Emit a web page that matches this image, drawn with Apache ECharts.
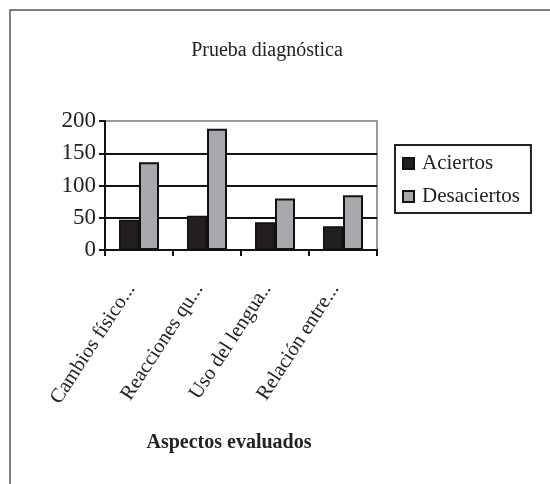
<!DOCTYPE html>
<html>
<head>
<meta charset="utf-8">
<script src="https://cdn.jsdelivr.net/npm/echarts@6/dist/echarts.min.js"></script>
<style>html,body{margin:0;padding:0;background:#fff;}#c{width:550px;height:484px;}</style>
</head>
<body>
<div id="c"></div>
<script>
var categories = ['Cambios físico...', 'Reacciones qu...', 'Uso del lengua..', 'Relación entre...'];
var aciertos = [47, 53, 43, 37];
var desaciertos = [136, 188, 80, 85];
var yTicks = [0, 50, 100, 150, 200];

var FONT = '"Liberation Serif", "Times New Roman", serif';
var chart = echarts.init(document.getElementById('c'));
chart.setOption({
  backgroundColor: '#fff',
  animation: false,
  textStyle: { fontFamily: FONT },
  title: [
    { text: 'Prueba diagnóstica', left: 262, top: 36, textAlign: 'center',
      textStyle: { fontFamily: FONT, fontSize: 20, fontWeight: 'normal', color: '#222' } },
    { text: 'Aspectos evaluados', left: 224, top: 428, textAlign: 'center',
      textStyle: { fontFamily: FONT, fontSize: 20, fontWeight: 'bold', color: '#222' } }
  ],
  graphic: [
    { type: 'rect', shape: { x: 10, y: 10, width: 560, height: 500 },
      style: { fill: 'none', stroke: '#555', lineWidth: 1.5 }, silent: true }
  ],
  legend: {
    orient: 'vertical', left: 395, top: 145,
    padding: [8, 11, 6, 7], itemGap: 12,
    borderColor: '#222', borderWidth: 2,
    itemWidth: 11, itemHeight: 11,
    icon: 'rect',
    textStyle: { fontFamily: FONT, fontSize: 21, color: '#222', padding: [0, 0, 0, 3] },
    data: ['Aciertos', 'Desaciertos']
  },
  grid: { left: 105, top: 121, width: 272, height: 129, show: true, borderColor: '#999', borderWidth: 2 },
  xAxis: {
    type: 'category', data: categories,
    axisLine: { lineStyle: { color: '#111', width: 2 } },
    axisTick: { show: true, interval: 0, length: 6, lineStyle: { color: '#111', width: 2 } },
    axisLabel: { interval: 0, rotate: 57, margin: 23, padding: [0, 15, 0, 0],
      fontFamily: FONT, fontSize: 20.5, color: '#222' }
  },
  yAxis: {
    type: 'value', min: 0, max: 200, interval: 50,
    axisLine: { show: true, lineStyle: { color: '#111', width: 2 } },
    axisTick: { show: true, length: 6, lineStyle: { color: '#111', width: 2 } },
    axisLabel: { margin: 9, fontFamily: FONT, fontSize: 23, color: '#222',
      formatter: function (v) { return yTicks.indexOf(v) >= 0 ? String(v) : ''; } },
    splitLine: { show: true, lineStyle: { color: ['#111', '#111', '#111', '#111', '#999'], width: 2 } }
  },
  series: [
    { name: 'Aciertos', type: 'bar', data: aciertos, barWidth: 20, barGap: '0%',
      itemStyle: { color: '#231f20', borderColor: '#111', borderWidth: 1.5 } },
    { name: 'Desaciertos', type: 'bar', data: desaciertos, barWidth: 20, barGap: '0%',
      itemStyle: { color: '#a7a9ac', borderColor: '#111', borderWidth: 2 } }
  ]
});
</script>
</body>
</html>
